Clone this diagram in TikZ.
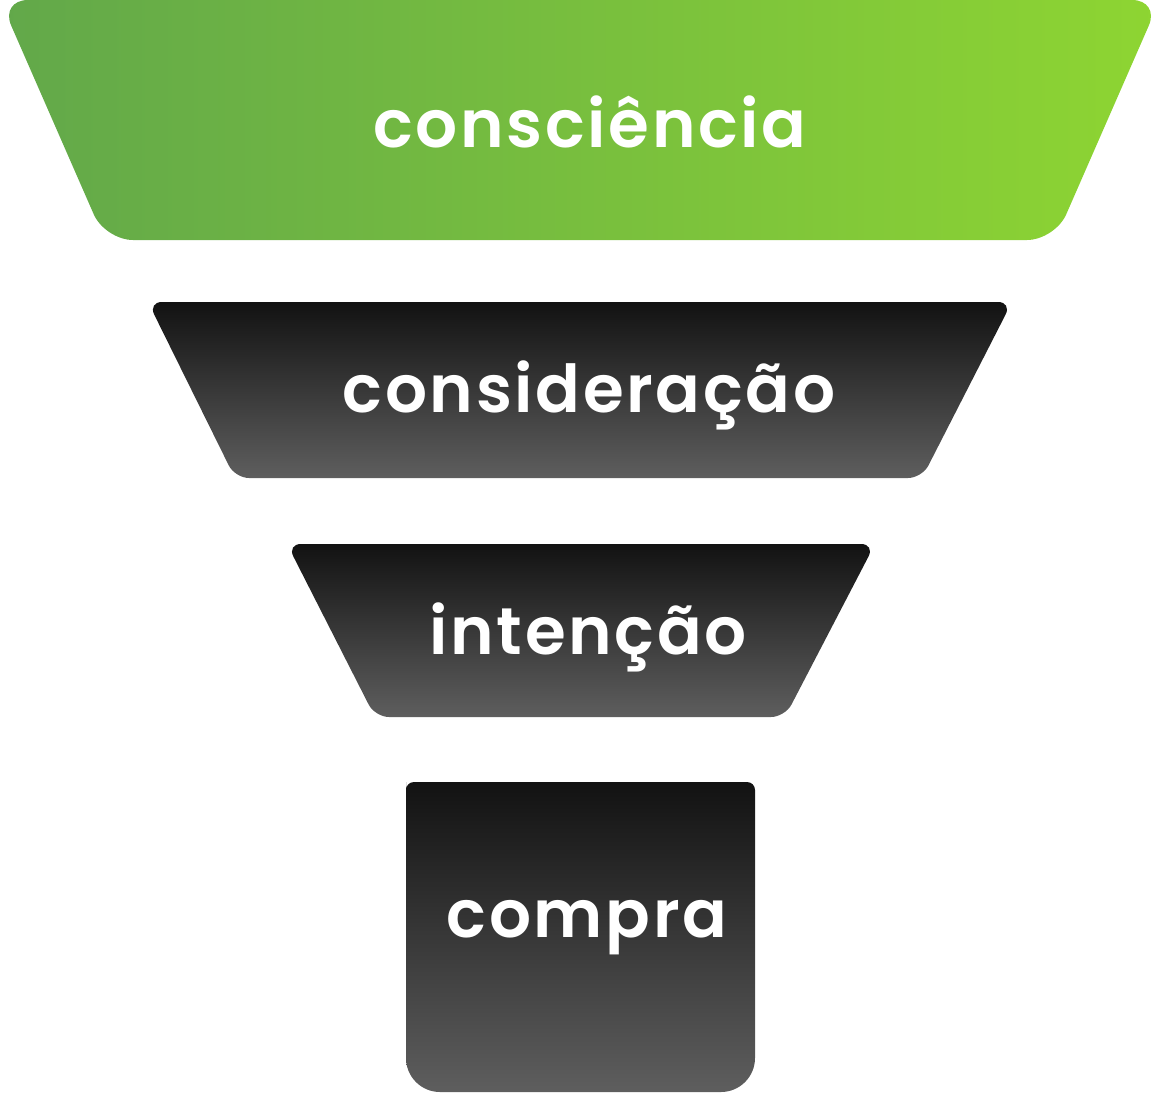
\documentclass[tikz,border=0pt]{standalone}
\usepackage{fontspec}
\setmainfont{Poppins}[BoldFont={* SemiBold}]
\definecolor{gl}{HTML}{62A84A}
\definecolor{gr}{HTML}{8ED532}
\definecolor{dt}{HTML}{121212}
\definecolor{db}{HTML}{5E5E5E}
\tikzset{
  dark/.style={top color=dt,bottom color=db,draw=none,rounded corners=14pt},
  lbl/.style={text=white,font=\fontsize{66}{70}\selectfont\bfseries\addfontfeatures{LetterSpace=4}}
}
\begin{document}
\begin{tikzpicture}[x=1pt,y=-1pt]
\useasboundingbox (0,0) rectangle (1160,1096);
\shade[left color=gl,right color=gr,rounded corners=28pt] (0,0) -- (1160,0) -- (1055,240) -- (105,240) -- cycle;
\shade[dark] (148,302) -- (1012,302) -- (922,478) -- (235,478) -- cycle;
\shade[dark] (287,544) -- (875,544) -- (785,717) -- (375,717) -- cycle;
\shade[top color=dt,bottom color=db] (406,790) [rounded corners=8pt] -- (406,782) -- (755,782) [rounded corners=34pt] -- (755,1092) -- (406,1092) [rounded corners=8pt] -- cycle;
\node[lbl] (a) at (590,122) {consciência};
\node[lbl] (b) at (589,395) {consideração};
\node[lbl] (c) at (588,637) {intenção};
\node[lbl] (d) at (587,928) {compra};
\end{tikzpicture}
\end{document}
